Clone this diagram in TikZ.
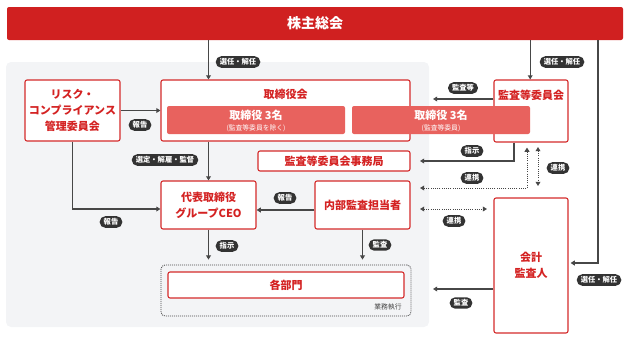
\documentclass[tikz,border=0pt]{standalone}
\usepackage{fontspec}
\setmainfont{Noto Sans CJK JP}
\usetikzlibrary{arrows.meta}
\definecolor{barred}{HTML}{D02020}
\definecolor{boxred}{HTML}{D42B2B}
\definecolor{txtred}{HTML}{D42222}
\definecolor{innerred}{HTML}{E8625E}
\definecolor{panelgray}{HTML}{F3F4F6}
\definecolor{linegray}{HTML}{474747}
\definecolor{pillgray}{HTML}{333333}
\tikzset{
  box/.style={draw=boxred, line width=1.1pt, fill=white, rounded corners=2pt, text=txtred,
    font=\bfseries\fontsize{11}{16}\selectfont, align=center, inner sep=0pt},
  innerbox/.style={fill=innerred, rounded corners=2pt, inner sep=0pt},
  title/.style={text=txtred, font=\bfseries\fontsize{11}{14}\selectfont, inner sep=0pt},
  pill/.style={fill=pillgray, text=white, rounded corners=5.5pt, inner xsep=4pt, inner ysep=2.3pt,
    font=\bfseries\fontsize{7.3}{8}\selectfont},
  arr/.style={draw=linegray, line width=1.1pt, -{Triangle[length=4.2pt,width=4.8pt]}},
  dotarr/.style={draw=linegray, line width=1pt, dash pattern=on 1pt off 1.2pt,
    {Triangle[length=4.2pt,width=4.8pt]}-{Triangle[length=4.2pt,width=4.8pt]}},
}
\begin{document}
\begin{tikzpicture}[x=1pt,y=-1pt]
\useasboundingbox (0,0) rectangle (630,341);
% panel
\fill[panelgray, rounded corners=5pt] (6,62) rectangle (429,327);
% top bar
\node[fill=barred, rounded corners=2pt, minimum width=616, minimum height=33, inner sep=0pt,
  text=white, font=\bfseries\fontsize{14}{16}\selectfont] (top) at (315,23.5) {株主総会};
% boxes
\node[box, minimum width=95, minimum height=61] (risk) at (72.5,110.5) {リスク・\\コンプライアンス\\管理委員会};
\node[box, minimum width=249, minimum height=61] (board) at (285.5,110.5) {};
\node[title] (boardt) at (285.5,94) {取締役会};
\node[box, minimum width=74, minimum height=62] (audit) at (531,111) {};
\node[title] (auditt) at (531,95) {監査等委員会};
\node[innerbox, minimum width=178, minimum height=28] (innerL) at (256,120) {};
\node[text=white, font=\bfseries\fontsize{11}{12}\selectfont, inner sep=0pt] (innerLt) at (256,115.5) {取締役\ 3名};
\node[text=white, font=\fontsize{6.8}{7}\selectfont, inner sep=0pt] (innerLs) at (256,128.5) {(監査等委員を除く)};
\node[innerbox, minimum width=178, minimum height=28] (innerR) at (441,120) {};
\node[text=white, font=\bfseries\fontsize{11}{12}\selectfont, inner sep=0pt] (innerRt) at (441,115.5) {取締役\ 3名};
\node[text=white, font=\fontsize{6.8}{7}\selectfont, inner sep=0pt] (innerRs) at (441,128.5) {(監査等委員)};
\node[box, minimum width=152, minimum height=20] (sec) at (334,161) {監査等委員会事務局};
\node[box, minimum width=95, minimum height=48] (ceo) at (208.5,205) {代表取締役\\グループCEO};
\node[box, minimum width=95, minimum height=48] (internal) at (362.5,205) {内部監査担当者};
\node[box, minimum width=74, minimum height=135] (acct) at (531,265.5) {会計\\監査人};
\node[draw=linegray, line width=0.8pt, dash pattern=on 1pt off 1pt, rounded corners=4pt,
  minimum width=250, minimum height=51, inner sep=0pt] (group) at (286,290.5) {};
\node[box, minimum width=236, minimum height=26] (depts) at (286,285) {各部門};
\node[text=linegray, font=\fontsize{6.8}{7}\selectfont, inner sep=0pt] (gyomu) at (388,306.5) {業務執行};
% coordinates
\coordinate (c3) at (598,263);
\coordinate (e1) at (433,99);
\coordinate (k1) at (514,161);
\coordinate (e2) at (420,161);
\coordinate (d1) at (527,188);
\coordinate (d2) at (538,147);
\coordinate (d3) at (538,186);
\coordinate (h1) at (420,209);
\coordinate (h2) at (487,209);
\coordinate (e3) at (433,289);
% connectors
\draw[arr] (top.south -| ceo.north) -- (board.north -| ceo.north);
\draw[arr] (top.south -| innerR.east) -- (audit.north -| innerR.east);
\draw[arr] (top.south -| c3) -- (c3) -- ([xshift=2pt]c3 -| acct.east);
\draw[arr] (risk.east) -- (board.west);
\draw[arr] (risk.south) |- ([yshift=-4pt]ceo.west);
\draw[arr] (board.south -| ceo.north) -- (ceo.north);
\draw[arr] (e1 -| audit.west) -- (e1);
\draw[arr] (k1 |- audit.south) -- (k1) -- (e2);
\draw[dotarr] ([yshift=-5pt]audit.south -| d1) -- (d1) -- (d1 -| e2);
\draw[dotarr] (d2) -- (d3);
\draw[dotarr] (h1) -- (h2);
\draw[arr] ([yshift=-5pt]internal.west) -- ([yshift=-5pt]ceo.east);
\draw[arr, shorten >=5pt] (ceo.south) -- (ceo.south |- group.north);
\draw[arr, shorten >=5pt] (internal.south) -- (internal.south |- group.north);
\draw[arr] (e3 -| acct.west) -- (e3);
% labels
\node[pill] (l1) at (238,62) {選任・解任};
\node[pill] (l2) at (562,62) {選任・解任};
\node[pill] (l3) at (599,280) {選任・解任};
\node[pill] (l4) at (140,125) {報告};
\node[pill] (l5) at (111,222) {報告};
\node[pill] (l6) at (165,160) {選定・解雇・監督};
\node[pill] (l7) at (463,88) {監査等};
\node[pill] (l8) at (472,151) {指示};
\node[pill] (l9) at (472,178) {連携};
\node[pill] (l10) at (558,168) {連携};
\node[pill] (l11) at (454,221) {連携};
\node[pill] (l12) at (285,198) {報告};
\node[pill] (l13) at (227,246) {指示};
\node[pill] (l14) at (380,245) {監査};
\node[pill] (l15) at (461,303) {監査};
\end{tikzpicture}
\end{document}
